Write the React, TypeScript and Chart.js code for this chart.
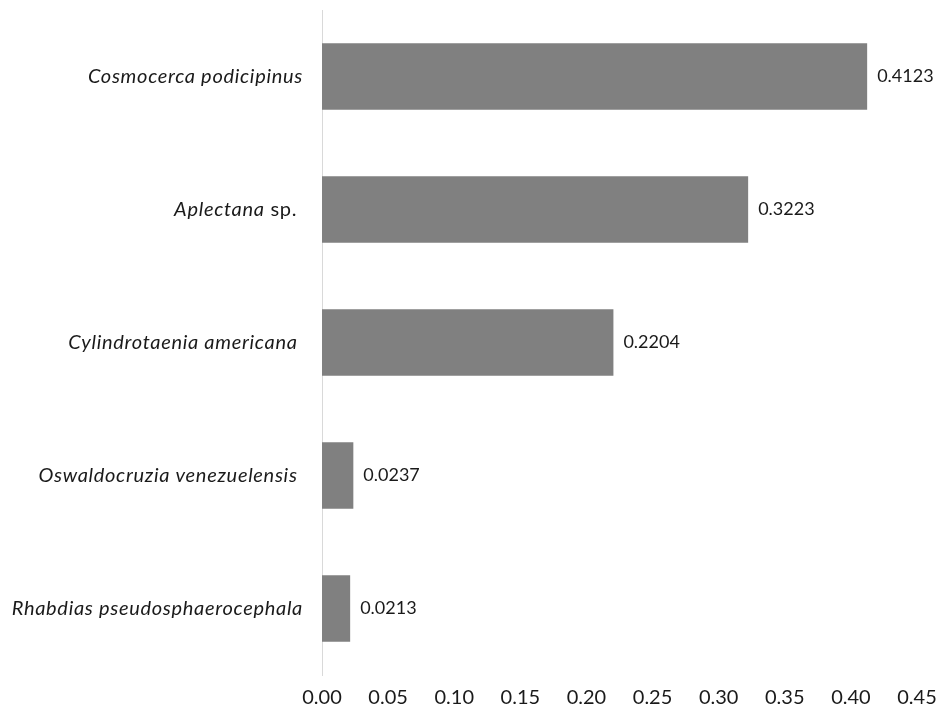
import React, { useEffect, useRef } from "react";
import { Chart, registerables } from "chart.js";

Chart.register(...registerables);

const speciesNames = [
  "Cosmocerca podicipinus",
  "Aplectana",
  "Cylindrotaenia americana ",
  "Oswaldocruzia venezuelensis ",
  "Rhabdias pseudosphaerocephala",
];
const speciesSuffix = ["", " sp. ", "", "", ""];
const values = [0.4123, 0.3223, 0.2204, 0.0237, 0.0213];
const valueLabels = ["0.4123", "0.3223", "0.2204", "0.0237", "0.0213"];
const xTicks = [0, 0.05, 0.1, 0.15, 0.2, 0.25, 0.3, 0.35, 0.4, 0.45];

const FONT = "Lato";

const labelPlugin = {
  id: "customLabels",
  afterDraw(chart: any) {
    const ctx = chart.ctx;
    const y = chart.scales.y;
    const meta = chart.getDatasetMeta(0);
    ctx.save();
    ctx.textBaseline = "middle";
    ctx.fillStyle = "#1a1a1a";
    const right = 303;
    speciesNames.forEach((name, i) => {
      const py = y.getPixelForValue(i);
      (ctx as any).letterSpacing = "0.7px";
      ctx.textAlign = "right";
      ctx.font = `normal 20px ${FONT}`;
      const suffix = speciesSuffix[i];
      const sw = suffix ? ctx.measureText(suffix).width : 0;
      if (suffix) ctx.fillText(suffix, right, py);
      ctx.font = `italic 20px ${FONT}`;
      ctx.fillText(name, right - sw, py);
    });
    (ctx as any).letterSpacing = "0px";
    ctx.font = `normal 18px ${FONT}`;
    ctx.textAlign = "left";
    meta.data.forEach((bar: any, i: number) => {
      ctx.fillText(valueLabels[i], bar.x + 10, bar.y);
    });
    ctx.restore();
  },
};

export default function App() {
  const ref = useRef<HTMLCanvasElement | null>(null);
  useEffect(() => {
    document.body.style.margin = "0";
    if (!ref.current) return;
    const chart = new Chart(ref.current, {
      type: "bar",
      data: {
        labels: speciesNames.map((n, i) => n + speciesSuffix[i]),
        datasets: [
          {
            data: values,
            backgroundColor: "#808080",
            borderWidth: 0,
            barPercentage: 0.5,
            categoryPercentage: 1,
          },
        ],
      },
      options: {
        indexAxis: "y",
        animation: false,
        responsive: true,
        maintainAspectRatio: false,
        layout: { padding: { left: 0, right: 23, top: 10, bottom: 0 } },
        plugins: {
          legend: { display: false },
          tooltip: { enabled: false },
        },
        scales: {
          x: {
            min: 0,
            max: 0.45,
            afterBuildTicks: (s: any) => {
              s.ticks = xTicks.map((v) => ({ value: v }));
            },
            afterFit: (s: any) => {
              s.height = 41;
              s.paddingLeft = 0;
              s.paddingRight = 0;
            },
            grid: { display: false, drawTicks: false },
            border: { display: false },
            ticks: {
              padding: 11,
              color: "#1a1a1a",
              font: { family: FONT, size: 20 },
              maxRotation: 0,
              autoSkip: false,
              callback: (v: any) => Number(v).toFixed(2),
            },
          },
          y: {
            afterFit: (s: any) => {
              s.width = 322;
            },
            grid: { display: false, drawTicks: false },
            border: { display: true, color: "#d9d9d9", width: 1 },
            ticks: { display: false },
          },
        },
      },
      plugins: [labelPlugin],
    });
    return () => chart.destroy();
  }, []);
  return (
    <div style={{ position: "relative", width: 940, height: 716 }}>
      <canvas ref={ref} />
    </div>
  );
}
